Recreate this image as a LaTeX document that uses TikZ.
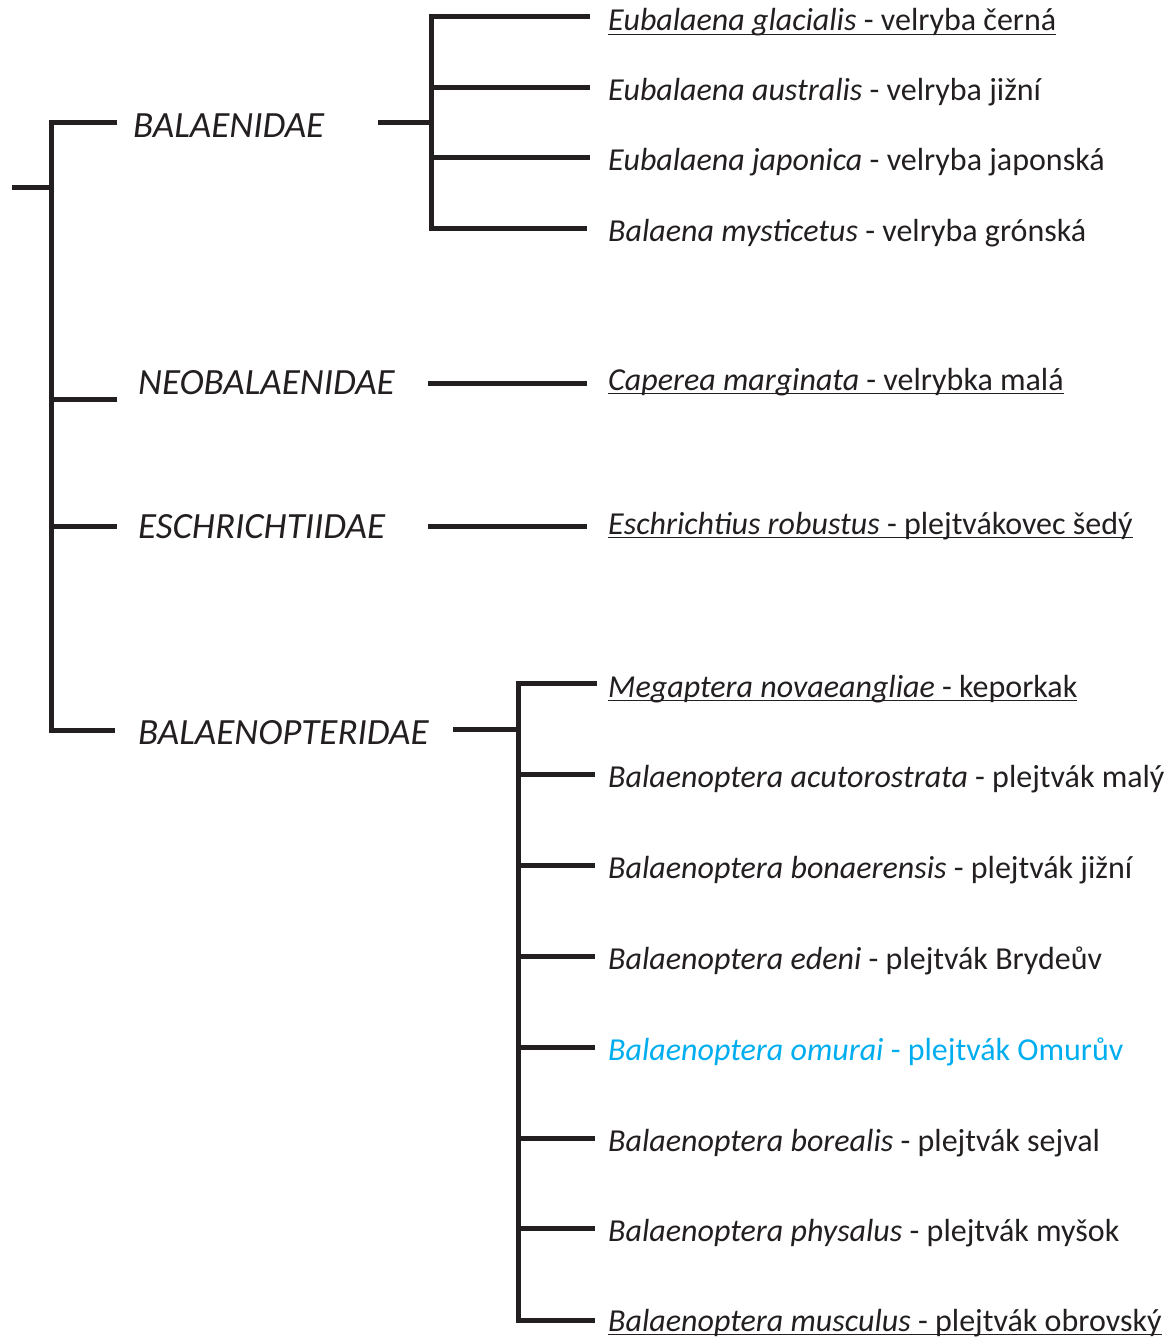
\documentclass[tikz,border=0pt]{standalone}
\usepackage{fontspec}
\setmainfont{Carlito}
\definecolor{ink}{HTML}{231F20}
\definecolor{sky}{HTML}{00AEEF}
\newcommand{\myul}[1]{\setbox0\hbox{#1}\rlap{\vrule height -2.6pt depth 4.0pt width \wd0}\box0}
\begin{document}
\begin{tikzpicture}[x=1pt,y=-1pt,
  branch/.style={line width=5pt, draw=ink},
  sp/.style={anchor=base west, inner sep=0pt, font=\fontsize{32}{38}\selectfont, text=ink},
  fam/.style={anchor=base west, inner sep=0pt, font=\fontsize{37}{44}\selectfont\itshape, text=ink}]
\useasboundingbox (0,0) rectangle (1168,1337);

% family labels
\node[fam] (fB) at (133,138) {BALAENIDAE};
\node[fam] (fN) at (138,394) {NEOBALAENIDAE};
\node[fam] (fE) at (138,538) {ESCHRICHTIIDAE};
\node[fam] (fP) at (138,744) {BALAENOPTERIDAE};

% species
\node[sp] (s1) at (608,31) {\myul{\textit{Eubalaena glacialis} - velryba černá}};
\node[sp] (s2) at (608,101) {\textit{Eubalaena australis} - velryba jižní};
\node[sp] (s3) at (608,171) {\textit{Eubalaena japonica} - velryba japonská};
\node[sp] (s4) at (608,242) {\textit{Balaena mysticetus} - velryba grónská};
\node[sp] (s5) at (608,390) {\myul{\textit{Caperea marginata} - velrybka malá}};
\node[sp] (s6) at (608,534) {\myul{\textit{Eschrichtius robustus} - plejtvákovec šedý}};
\node[sp] (s7) at (608,697) {\myul{\textit{Megaptera novaeangliae} - keporkak}};
\node[sp] (s8) at (608,787) {\textit{Balaenoptera acutorostrata} - plejtvák malý};
\node[sp] (s9) at (608,878) {\textit{Balaenoptera bonaerensis} - plejtvák jižní};
\node[sp] (s10) at (608,969) {\textit{Balaenoptera edeni} - plejtvák Brydeův};
\node[sp,text=sky] (s11) at (608,1060) {\textit{Balaenoptera omurai} - plejtvák Omurův};
\node[sp] (s12) at (608,1151) {\textit{Balaenoptera borealis} - plejtvák sejval};
\node[sp] (s13) at (608,1241) {\textit{Balaenoptera physalus} - plejtvák myšok};
\node[sp] (s14) at (608,1331) {\myul{\textit{Balaenoptera musculus} - plejtvák obrovský}};

% root tree
\coordinate (r0) at (12,188);
\coordinate (rJ) at (51,188);
\coordinate (rB) at (117,123);
\coordinate (rN) at (117,399);
\coordinate (rE) at (117,526);
\coordinate (rP) at (115,730);
\draw[branch] (r0) -- (rJ);
\draw[branch] (rB) -| (rJ) |- (rP);
\draw[branch] (rJ |- rN) -- (rN);
\draw[branch] (rJ |- rE) -- (rE);

% Balaenidae
\coordinate (bL) at (378,123);
\coordinate (bJ) at (431,123);
\coordinate (b1) at (590,17);
\coordinate (b2) at (590,88);
\coordinate (b3) at (590,158);
\coordinate (b4) at (587,229);
\draw[branch] (bL) -- (bJ);
\draw[branch] (b1) -| (bJ) |- (b4);
\draw[branch] (bJ |- b2) -- (b2);
\draw[branch] (bJ |- b3) -- (b3);

% Neobalaenidae, Eschrichtiidae
\coordinate (nL) at (428,383);
\coordinate (nR) at (587,383);
\draw[branch] (nL) -- (nR);
\coordinate (eL) at (428,526);
\coordinate (eR) at (587,526);
\draw[branch] (eL) -- (eR);

% Balaenopteridae
\coordinate (pL) at (453,729);
\coordinate (pJ) at (518,729);
\coordinate (p1) at (597,683);
\coordinate (p2) at (595,774);
\coordinate (p3) at (595,865);
\coordinate (p4) at (595,956);
\coordinate (p5) at (595,1047);
\coordinate (p6) at (595,1138);
\coordinate (p7) at (595,1228);
\coordinate (p8) at (595,1320);
\draw[branch] (pL) -- (pJ);
\draw[branch] (p1) -| (pJ) |- (p8);
\foreach \p in {p2,p3,p4,p5,p6,p7}
  \draw[branch] (pJ |- \p) -- (\p);
\end{tikzpicture}
\end{document}
